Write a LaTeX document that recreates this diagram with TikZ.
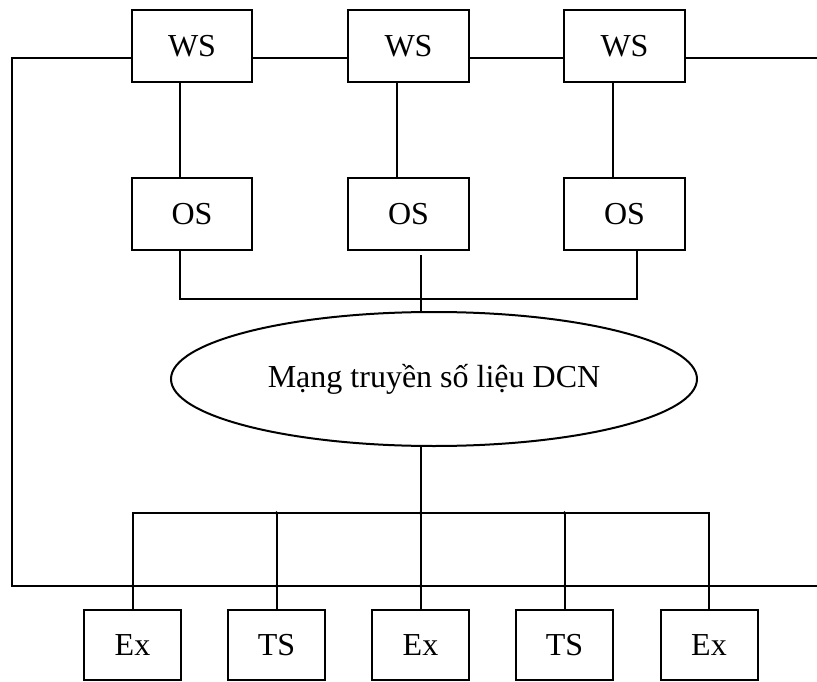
\documentclass[tikz,border=0pt]{standalone}
\usepackage{fontspec}
\setmainfont{Liberation Serif}
\usetikzlibrary{shapes.geometric}
\begin{document}
\begin{tikzpicture}[x=1pt,y=-1pt,
  wire/.style={line width=2pt},
  unit/.style={draw,line width=2pt,minimum width=120.5pt,minimum height=72pt,inner sep=0pt,
    font=\fontsize{32}{37}\selectfont},
  term/.style={draw,line width=2pt,minimum width=97pt,minimum height=70pt,inner sep=0pt,
    font=\fontsize{32}{37}\selectfont},
  cloud/.style={draw,ellipse,line width=2pt,minimum width=526pt,minimum height=134pt,inner sep=0pt,
    font=\fontsize{32}{37}\selectfont},
  joint/.style={circle,fill=black,inner sep=0pt,minimum size=3.6pt}]
\useasboundingbox (0,0) rectangle (817,682);

% workstations
\node[unit] (ws1) at (192,46) {WS};
\node[unit] (ws2) at (408.5,46) {WS};
\node[unit] (ws3) at (624.5,46) {WS};

% operation systems
\node[unit] (os1) at (192,214) {OS};
\node[unit] (os2) at (408.5,214) {OS};
\node[unit] (os3) at (624.5,214) {OS};

% data communication network
\node[cloud] (dcn) at (434,379) {Mạng truyền số liệu DCN};

% network elements
\node[term] (ex1) at (132.5,645) {Ex};
\node[term] (ts1) at (276.5,645) {TS};
\node[term] (ex2) at (420.5,645) {Ex};
\node[term] (ts2) at (564.5,645) {TS};
\node[term] (ex3) at (709,645) {Ex};

% ring coordinates
\coordinate (lt) at (12,58);
\coordinate (lb) at (12,586);
\coordinate (rb) at (817,586);
\coordinate (rt) at (817,58);

% WS ring
\draw[wire] (ws1.west |- lt) -- (lt) -- (lb) -- (rb);
\draw[wire] (ws1.east |- lt) -- (ws2.west |- lt);
\draw[wire] (ws2.east |- lt) -- (ws3.west |- lt);
\draw[wire] (ws3.east |- rt) -- (rt);

% WS to OS
\draw[wire] ([xshift=-12pt]ws1.south) -- ([xshift=-12pt]os1.north);
\draw[wire] ([xshift=-11.5pt]ws2.south) -- ([xshift=-11.5pt]os2.north);
\draw[wire] ([xshift=-11.5pt]ws3.south) -- ([xshift=-11.5pt]os3.north);

% OS to DCN
\draw[wire] ([xshift=-12pt]os1.south) -- ++(0,48) coordinate (oj1) -| ([xshift=12.5pt]os3.south);
\coordinate (os2t) at ([xshift=12.5pt,yshift=-4pt]os2.south);
\draw[wire] (os2t) -- (dcn.north -| os2t);
\coordinate (oj2) at (oj1 -| os2t);

% DCN to network elements
\draw[wire] (dcn.south -| ex2.north) -- (ex2.north);
\draw[wire] (ex1.north) -- ++(0,-96) coordinate (ub1) -| (ex3.north);
\draw[wire] (ts1.north) -- ++(0,-96) coordinate (ub2);
\draw[wire] (ts2.north) -- ++(0,-96) coordinate (ub4);
\coordinate (ub3) at (ub1 -| ex2.north);

% junctions
\foreach \n in {oj2,ub2,ub3,ub4} \node[joint] at (\n) {};
\foreach \n in {ex1,ts1,ex2,ts2,ex3} \node[joint] at (lb -| \n.north) {};
\end{tikzpicture}
\end{document}
